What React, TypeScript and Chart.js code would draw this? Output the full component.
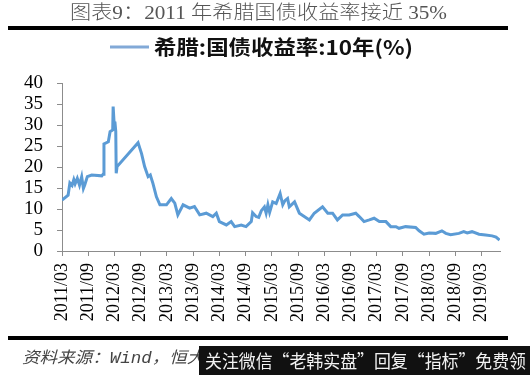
import React, { useEffect, useRef } from "react";
import { Chart, registerables } from "chart.js";

Chart.register(...registerables);

const titleText = "图表9：2011 年希腊国债收益率接近 35%";
const legendText = "希腊:国债收益率:10年(%)";
const sourceText = "资料来源：Wind，恒大研究院";
const overlayText = "关注微信“老韩实盘”回复“指标”免费领";

const tickLabels = [
  "2011/03", "2011/09", "2012/03", "2012/09", "2013/03", "2013/09",
  "2014/03", "2014/09", "2015/03", "2015/09", "2016/03", "2016/09",
  "2017/03", "2017/09", "2018/03", "2018/09", "2019/03",
];

// months since 2011/03
const months = [
  0, 1.4, 1.8, 2.3, 2.7, 3.0, 3.5, 4.0, 4.5, 4.9, 5.2, 5.8, 6.8, 9.1, 9.4, 9.6,
  10.6, 11.0, 11.6, 11.7, 12.0, 12.1, 12.3, 12.4, 12.6, 17.4, 18.2, 18.9, 19.7,
  20.2, 20.8, 21.6, 22.4, 23.9, 25.0, 25.8, 26.5, 27.7, 29.2, 30.3, 31.5, 33.0,
  34.5, 35.3, 36.0, 37.6, 38.7, 39.5, 41.0, 42.1, 43.3, 43.6, 44.4, 45.0, 45.6,
  46.3, 46.7, 47.1, 47.5, 48.2, 49.0, 49.9, 50.5, 51.0, 51.6, 52.0, 53.2, 54.3,
  56.6, 57.7, 59.6, 60.8, 61.9, 63.0, 64.2, 65.7, 67.2, 68.0, 69.1, 70.3, 71.4,
  72.6, 74.1, 75.2, 76.4, 77.1, 78.6, 80.9, 81.7, 82.8, 84.0, 85.5, 86.9, 87.8,
  88.9, 90.8, 91.9, 92.7, 93.8, 95.4, 96.9, 98.4, 99.3, 100.1,
];

const yields = [
  12.1, 13.3, 16.2, 15.6, 17.0, 16.0, 17.3, 15.7, 17.7, 14.9, 15.7, 17.7, 18.1, 17.9, 18.3, 25.5,
  26.0, 28.4, 28.8, 34.4, 29.0, 30.8, 28.5, 18.5, 20.1, 25.8, 23.2, 20.1, 17.7,
  18.1, 16.1, 12.9, 11.0, 11.0, 12.5, 11.4, 8.6, 11.0, 10.2, 10.6, 8.6, 9.0,
  8.2, 9.0, 7.0, 6.2, 7.0, 5.8, 6.2, 5.8, 7.0, 9.1, 8.2, 8.0, 9.6,
  10.5, 9.0, 11.0, 9.2, 11.7, 11.3, 13.7, 11.0, 12.0, 12.5, 10.5, 11.7, 9.0,
  7.4, 9.0, 10.5, 9.0, 9.0, 7.4, 8.6, 8.6, 9.0, 8.2, 7.0, 7.4, 7.8,
  7.0, 7.0, 5.8, 5.8, 5.4, 5.8, 5.6, 4.8, 4.0, 4.3, 4.2, 4.8, 4.2,
  3.9, 4.2, 4.6, 4.3, 4.6, 4.0, 3.8, 3.6, 3.3, 2.6,
];

const SERIF = "'Liberation Serif', 'Times New Roman', 'DejaVu Serif', serif";

function fitText(
  ctx: CanvasRenderingContext2D,
  text: string,
  x: number,
  y: number,
  width: number,
  font: string,
  color: string
) {
  ctx.save();
  ctx.font = font;
  ctx.fillStyle = color;
  ctx.textAlign = "left";
  ctx.textBaseline = "middle";
  const w = ctx.measureText(text).width;
  ctx.translate(x, y);
  ctx.scale(width / w, 1);
  ctx.fillText(text, 0, 0);
  ctx.restore();
}

const decorPlugin = {
  id: "decor",
  afterDraw(chart: any) {
    const ctx = chart.ctx as CanvasRenderingContext2D;
    fitText(ctx, titleText, 70, 14, 377, "300 19px 'Liberation Serif', 'Noto Sans CJK SC'", "#555");
    ctx.save();
    ctx.fillStyle = "#000";
    ctx.fillRect(8, 26, 500, 4);
    ctx.fillRect(8, 336, 500, 4);
    ctx.restore();
    ctx.save();
    ctx.strokeStyle = "#82a9d7";
    ctx.lineWidth = 3;
    ctx.beginPath();
    ctx.moveTo(110, 47);
    ctx.lineTo(149, 47);
    ctx.stroke();
    ctx.restore();
    fitText(ctx, legendText, 154, 47, 259, "bold 20px 'Noto Sans CJK SC'", "#111");
    fitText(ctx, sourceText, 22, 359, 235, "italic 16px 'Liberation Mono', 'Noto Sans CJK SC'", "#444");
    ctx.save();
    ctx.fillStyle = "#111";
    ctx.fillRect(199, 346, 331, 29);
    ctx.restore();
    fitText(ctx, overlayText, 205, 361, 321, "18px 'Noto Sans CJK SC'", "#f2f2f2");
  },
};

export default function App() {
  const canvasRef = useRef<HTMLCanvasElement | null>(null);

  useEffect(() => {
    const canvas = canvasRef.current;
    if (!canvas) return;
    const data = months.map((m, i) => ({ x: m, y: yields[i] }));
    const chart = new Chart(canvas, {
      type: "line",
      data: {
        datasets: [
          {
            label: legendText,
            data,
            borderColor: "#5b9bd5",
            borderWidth: 3,
            pointRadius: 0,
            tension: 0,
            fill: false,
          },
        ],
      },
      options: {
        responsive: false,
        animation: false,
        layout: { padding: { left: 0, right: 30, top: 83, bottom: 0 } },
        plugins: {
          legend: { display: false },
          title: { display: false },
          tooltip: { enabled: false },
        },
        scales: {
          x: {
            type: "linear",
            min: 0,
            max: 100.2,
            afterFit(scale: any) {
              scale.height = 124;
            },
            afterBuildTicks(scale: any) {
              scale.ticks = tickLabels.map((_, i) => ({ value: i * 6 }));
            },
            ticks: {
              autoSkip: false,
              minRotation: 90,
              maxRotation: 90,
              padding: 7,
              color: "#000",
              font: { family: SERIF, size: 18 },
              callback: (v: any) => tickLabels[Math.round(Number(v) / 6)] ?? "",
            },
            grid: {
              display: true,
              drawOnChartArea: false,
              drawTicks: true,
              tickLength: 5,
              color: "#8c8c8c",
            },
            border: { display: true, color: "#8c8c8c", width: 1 },
          },
          y: {
            min: 0,
            max: 40,
            afterFit(scale: any) {
              scale.width = 62;
            },
            ticks: {
              stepSize: 5,
              autoSkip: false,
              padding: 14,
              color: "#000",
              font: { family: SERIF, size: 19 },
            },
            grid: {
              display: true,
              drawOnChartArea: false,
              drawTicks: true,
              tickLength: 5,
              color: "#8c8c8c",
            },
            border: { display: true, color: "#8c8c8c", width: 1 },
          },
        },
      },
      plugins: [decorPlugin],
    });
    return () => chart.destroy();
  }, []);

  return (
    <div style={{ position: "fixed", left: 0, top: 0, width: 530, height: 375, background: "#fff" }}>
      <canvas ref={canvasRef} width={530} height={375} style={{ width: 530, height: 375, display: "block" }} />
    </div>
  );
}
